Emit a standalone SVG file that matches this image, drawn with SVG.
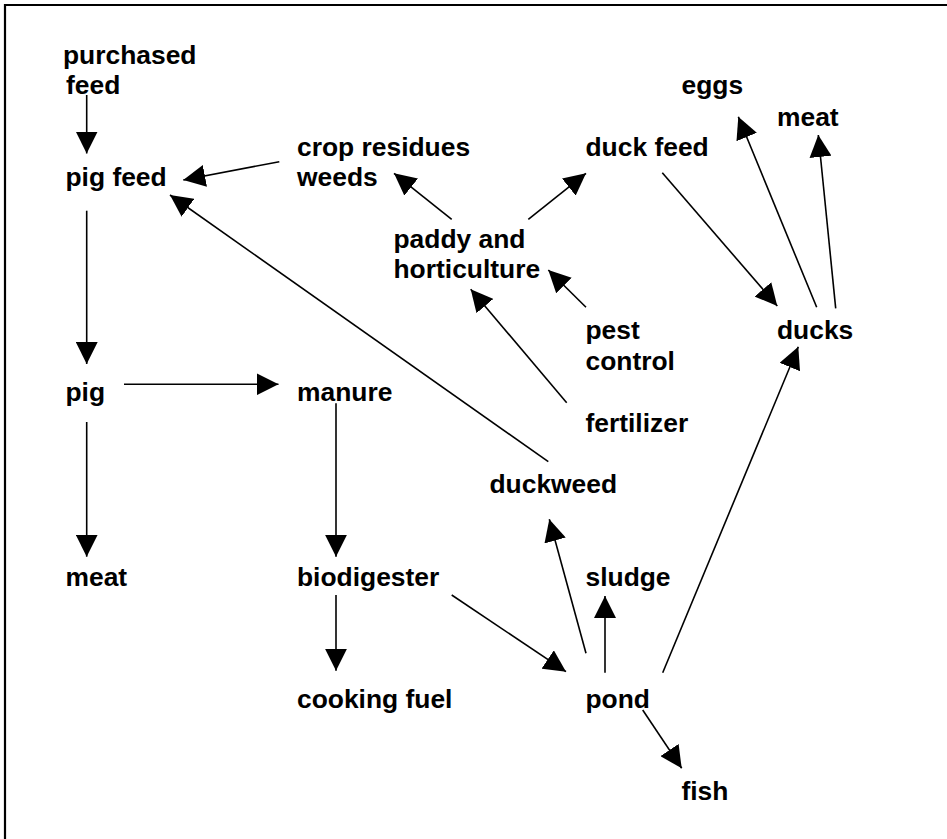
<svg xmlns="http://www.w3.org/2000/svg" width="947" height="839" viewBox="0 0 947 839">
<style>
text{font-family:"Liberation Sans",Arial,sans-serif;font-weight:bold;font-size:26.4px;fill:#000}
.c line{stroke:#000;stroke-width:1.6;marker-end:url(#ah)}
.frame{stroke:#000;stroke-width:2.2;fill:none}
</style>
<defs>
<marker id="ah" markerUnits="userSpaceOnUse" markerWidth="22" markerHeight="22" refX="21" refY="10.5" orient="auto" viewBox="0 0 21 21">
<path d="M0,0 L21,10.5 L0,21 z" fill="#000"/>
</marker>
</defs>
<rect width="947" height="839" fill="#fff"/>
<path class="frame" d="M5,839 V5 H947"/>
<g id="purchased-feed"><text x="63" y="63.5">purchased</text><text x="66" y="94">feed</text></g>
<g id="pig-feed"><text x="65.5" y="185.5">pig feed</text></g>
<g id="crop-residues"><text x="297" y="155.5">crop residues</text><text x="297" y="185.5">weeds</text></g>
<g id="duck-feed"><text x="585.5" y="155.5">duck feed</text></g>
<g id="eggs"><text x="681.5" y="94">eggs</text></g>
<g id="duck-meat"><text x="777" y="126">meat</text></g>
<g id="paddy"><text x="393.5" y="248">paddy and</text><text x="393.5" y="278">horticulture</text></g>
<g id="pest-control"><text x="585.5" y="339">pest</text><text x="585.5" y="369.5">control</text></g>
<g id="ducks"><text x="777" y="339">ducks</text></g>
<g id="pig"><text x="65.5" y="401">pig</text></g>
<g id="manure"><text x="297" y="401">manure</text></g>
<g id="fertilizer"><text x="585.5" y="431.5">fertilizer</text></g>
<g id="duckweed"><text x="489.5" y="493">duckweed</text></g>
<g id="pig-meat"><text x="65.5" y="585.5">meat</text></g>
<g id="biodigester"><text x="297" y="585.5">biodigester</text></g>
<g id="sludge"><text x="585.5" y="585.5">sludge</text></g>
<g id="cooking-fuel"><text x="297" y="708">cooking fuel</text></g>
<g id="pond"><text x="585.5" y="708">pond</text></g>
<g id="fish"><text x="681.5" y="800">fish</text></g>
<g class="c" id="connectors">
<line x1="86.7" y1="95" x2="86.7" y2="153.5"/>
<line x1="279.3" y1="161.7" x2="183.3" y2="180"/>
<line x1="451.7" y1="219.3" x2="394" y2="173.3"/>
<line x1="528.3" y1="219.3" x2="586" y2="173.3"/>
<line x1="86.7" y1="210.7" x2="86.7" y2="364"/>
<line x1="548.3" y1="461.7" x2="170" y2="195"/>
<line x1="124" y1="384.3" x2="278.5" y2="384.3"/>
<line x1="336" y1="403.3" x2="336" y2="556.7"/>
<line x1="86.7" y1="422" x2="86.7" y2="556.7"/>
<line x1="336" y1="595" x2="336" y2="670.7"/>
<line x1="451.7" y1="595" x2="566" y2="671.7"/>
<line x1="586" y1="653.3" x2="549.3" y2="519.3"/>
<line x1="605" y1="672.7" x2="605" y2="596"/>
<line x1="662.7" y1="672.7" x2="798.3" y2="346.7"/>
<line x1="642.7" y1="710" x2="681.7" y2="768.3"/>
<line x1="586" y1="307.3" x2="548.3" y2="270"/>
<line x1="566.7" y1="402.7" x2="470.7" y2="289.3"/>
<line x1="662.3" y1="172.7" x2="777.3" y2="306"/>
<line x1="816.7" y1="307.3" x2="738.3" y2="116.7"/>
<line x1="835.7" y1="308.3" x2="818.3" y2="135"/>
</g>
</svg>
